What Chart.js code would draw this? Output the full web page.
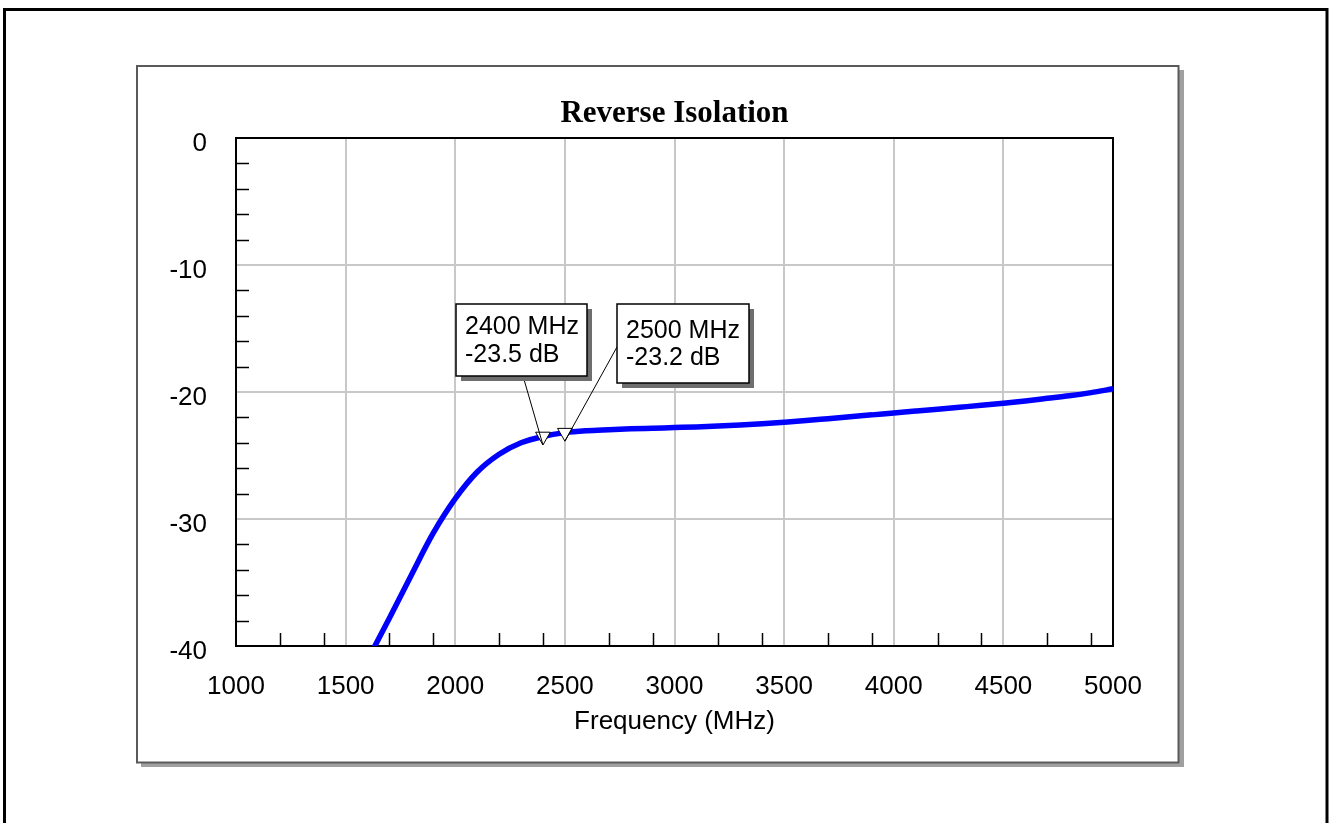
<!DOCTYPE html>
<html>
<head>
<meta charset="utf-8">
<script src="https://cdn.jsdelivr.net/npm/chart.js@4/dist/chart.umd.min.js"></script>
<style>
  html, body { margin: 0; padding: 0; background: #fff; overflow: hidden; }
  #c { display: block; }
</style>
</head>
<body>
<canvas id="c" width="1331" height="823"></canvas>
<script>
// ---- data ----
const chartTitle = 'Reverse Isolation';
const xAxisTitle = 'Frequency (MHz)';

const frequencyMHz = [1600, 1700, 1800, 1900, 2000, 2100, 2200, 2300, 2400, 2500,
                      2600, 2700, 2800, 2900, 3000, 3100, 3200, 3300, 3400, 3500,
                      3600, 3700, 3800, 3900, 4000, 4100, 4200, 4300, 4400, 4500,
                      4600, 4700, 4800, 4900, 5000];
const isolationDb = [-41.1, -37.8, -34.4, -31.1, -28.4, -26.3, -24.9, -24.0, -23.5, -23.2,
                     -23.05, -22.97, -22.9, -22.85, -22.8, -22.75, -22.68, -22.6, -22.5, -22.38,
                     -22.25, -22.1, -21.95, -21.8, -21.65, -21.5, -21.35, -21.2, -21.05, -20.88,
                     -20.7, -20.5, -20.3, -20.05, -19.75];

const xTickValues = [1000, 1500, 2000, 2500, 3000, 3500, 4000, 4500, 5000];
const yTickValues = [0, -10, -20, -30, -40];
const xMinorTicks = [1200, 1400, 1700, 1900, 2200, 2400, 2700, 2900, 3200, 3400,
                     3700, 3900, 4200, 4400, 4700, 4900];
const yMinorTicks = [-2, -4, -6, -8, -12, -14, -16, -18, -22, -24, -26, -28,
                     -32, -34, -36, -38];

const markerFreq = [2400, 2500];
const markerDb = [-23.5, -23.2];

// ---- drawing helpers ----
const sansFont = "'Liberation Sans', Arial, sans-serif";
const markerRadius = 8.5;

// page frame, panel with drop shadow
const framePlugin = {
  id: 'frames',
  beforeDraw(chart) {
    const ctx = chart.ctx;
    ctx.save();
    ctx.fillStyle = '#ffffff';
    ctx.fillRect(0, 0, chart.width, chart.height);
    ctx.strokeStyle = '#000000';
    ctx.lineWidth = 3;
    ctx.strokeRect(4.5, 9.5, 1322.5, 900);
    ctx.fillStyle = '#a0a0a0';
    ctx.fillRect(141, 70, 1043, 697);
    ctx.fillStyle = '#ffffff';
    ctx.fillRect(137, 66, 1041.5, 696.5);
    ctx.strokeStyle = '#5a5a5a';
    ctx.lineWidth = 2;
    ctx.strokeRect(137, 66, 1041.5, 696.5);
    ctx.restore();
  }
};

// plot frame and minor ticks
const plotFramePlugin = {
  id: 'plotFrame',
  beforeDatasetsDraw(chart) {
    const {ctx, chartArea: a, scales: {x, y}} = chart;
    ctx.save();
    ctx.strokeStyle = '#000000';
    ctx.lineWidth = 1.5;
    ctx.beginPath();
    xMinorTicks.forEach(v => {
      const px = Math.round(x.getPixelForValue(v)) + 0.5;
      ctx.moveTo(px, a.bottom);
      ctx.lineTo(px, a.bottom - 13);
    });
    yMinorTicks.forEach(v => {
      const py = Math.round(y.getPixelForValue(v)) + 0.5;
      ctx.moveTo(a.left, py);
      ctx.lineTo(a.left + 13, py);
    });
    ctx.stroke();
    ctx.lineWidth = 2;
    ctx.strokeRect(a.left, a.top, a.right - a.left, a.bottom - a.top);
    ctx.restore();
  }
};

// marker read-out boxes with leader lines
const boxLayout = [
  {left: 456, top: 304, width: 131, height: 72, lineY: [327, 355], anchor: {x: 523, y: 376}},
  {left: 617, top: 304, width: 132, height: 79, lineY: [331, 358], anchor: {x: 617, y: 347}}
];
const markerLabelPlugin = {
  id: 'markerLabels',
  afterDatasetsDraw(chart) {
    const {ctx, scales: {x, y}} = chart;
    ctx.save();
    markerFreq.forEach((f, i) => {
      const b = boxLayout[i];
      const mx = x.getPixelForValue(f);
      const my = y.getPixelForValue(markerDb[i]) + markerRadius;
      ctx.strokeStyle = '#000000';
      ctx.lineWidth = 1;
      ctx.beginPath();
      ctx.moveTo(b.anchor.x, b.anchor.y);
      ctx.lineTo(mx, my);
      ctx.stroke();
      ctx.fillStyle = '#6e6e6e';
      ctx.fillRect(b.left + 5, b.top + 5, b.width, b.height);
      ctx.fillStyle = '#ffffff';
      ctx.fillRect(b.left, b.top, b.width, b.height);
      ctx.lineWidth = 1.5;
      ctx.strokeRect(b.left, b.top, b.width, b.height);
      ctx.fillStyle = '#000000';
      ctx.font = '25px ' + sansFont;
      ctx.textAlign = 'left';
      ctx.textBaseline = 'middle';
      ctx.fillText(f + ' MHz', b.left + 9, b.lineY[0]);
      ctx.fillText(markerDb[i].toFixed(1) + ' dB', b.left + 9, b.lineY[1]);
    });
    ctx.restore();
  }
};

new Chart(document.getElementById('c'), {
  type: 'scatter',
  data: {
    datasets: [
      {
        label: 'Markers',
        data: markerFreq.map((f, i) => ({x: f, y: markerDb[i]})),
        pointStyle: 'triangle',
        rotation: 180,
        pointRadius: markerRadius,
        pointBorderWidth: 1,
        pointBorderColor: '#000000',
        pointBackgroundColor: '#ffffff',
        showLine: false,
        clip: false
      },
      {
        label: 'S12',
        data: frequencyMHz.map((f, i) => ({x: f, y: isolationDb[i]})),
        showLine: true,
        borderColor: '#0000ff',
        borderWidth: 5.5,
        pointRadius: 0,
        cubicInterpolationMode: 'monotone',
        clip: 0
      }
    ]
  },
  options: {
    responsive: false,
    devicePixelRatio: 1,
    animation: false,
    layout: { padding: { left: 0, right: 218, top: 0, bottom: 86 } },
    plugins: {
      legend: { display: false },
      tooltip: { enabled: false },
      title: {
        display: true,
        text: chartTitle,
        fullSize: false,
        color: '#000000',
        font: { family: "'Liberation Serif', 'Times New Roman', serif", size: 31, weight: 'bold', lineHeight: 1.2 },
        padding: { top: 95.4, bottom: 5.4 }
      }
    },
    scales: {
      x: {
        type: 'linear',
        min: 1000,
        max: 5000,
        afterBuildTicks: s => { s.ticks = xTickValues.map(v => ({value: v})); },
        afterFit: s => { s.height = 91; },
        grid: { color: '#c8c8c8', lineWidth: 2, drawTicks: false },
        border: { display: false },
        ticks: { color: '#000000', padding: 25, maxRotation: 0, callback: v => String(v), font: { family: sansFont, size: 26 } },
        title: {
          display: true,
          text: xAxisTitle,
          color: '#000000',
          padding: { top: 0, bottom: 0 },
          font: { family: sansFont, size: 26, lineHeight: 1.2 }
        }
      },
      y: {
        type: 'linear',
        min: -40,
        max: 0,
        afterBuildTicks: s => { s.ticks = yTickValues.map(v => ({value: v})); },
        afterFit: s => { s.width = 236; },
        grid: { color: '#c8c8c8', lineWidth: 2, drawTicks: false },
        border: { display: false },
        ticks: { color: '#000000', padding: 29, labelOffset: 6, callback: v => String(v), font: { family: sansFont, size: 26 } }
      }
    }
  },
  plugins: [framePlugin, plotFramePlugin, markerLabelPlugin]
});
</script>
</body>
</html>
